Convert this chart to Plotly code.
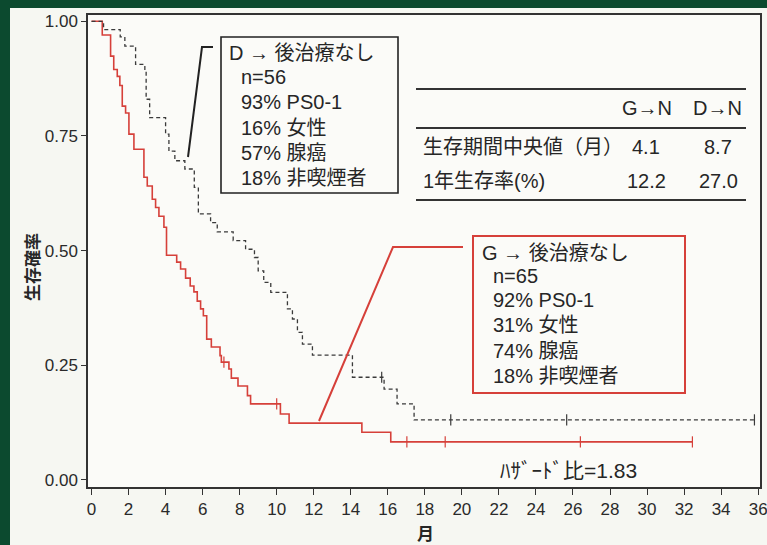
import plotly.graph_objects as go

# ---------------- data ----------------
# G -> no further therapy (red, solid), n=65
g_time = [0, 0.58, 1.03, 1.2, 1.39, 1.53, 1.66, 1.84, 2.02, 2.29, 2.83, 3.01, 3.28, 3.46, 3.64,
          3.91, 4.05, 4.6, 4.81, 5.08, 5.33, 5.53, 5.71, 5.89, 6.04, 6.22, 6.47, 6.94, 7.01,
          7.42, 7.55, 7.91, 8.42, 8.59, 10.2, 10.67, 14.6, 16.16, 32.45]
g_surv = [1.0, 0.97, 0.924, 0.895, 0.88, 0.86, 0.815, 0.80, 0.754, 0.721, 0.66, 0.641, 0.612, 0.594, 0.575,
          0.551, 0.49, 0.475, 0.46, 0.44, 0.423, 0.41, 0.39, 0.373, 0.358, 0.307, 0.29, 0.271, 0.257,
          0.242, 0.222, 0.205, 0.184, 0.166, 0.144, 0.124, 0.104, 0.083, 0.083]
g_cens_time = [7.15, 10.0, 17.03, 19.1, 26.4, 32.45]
g_cens_surv = [0.257, 0.166, 0.083, 0.083, 0.083, 0.083]

# D -> no further therapy (dark dashed), n=56
d_time = [0, 0.65, 1.55, 1.8, 2.38, 2.88, 2.95, 3.14, 4.0, 4.18, 4.5, 5.04, 5.55, 5.77, 6.43, 6.79,
          7.65, 8.32, 8.8, 9.0, 9.3, 9.68, 10.58, 10.85, 11.12, 11.39, 11.93, 14.09, 15.8, 16.5,
          17.42, 35.8]
d_surv = [1.0, 0.982, 0.966, 0.946, 0.906, 0.892, 0.83, 0.79, 0.754, 0.717, 0.696, 0.678, 0.638, 0.58,
          0.561, 0.541, 0.522, 0.503, 0.485, 0.456, 0.431, 0.409, 0.373, 0.351, 0.322, 0.296, 0.272,
          0.224, 0.198, 0.166, 0.131, 0.131]
d_cens_time = [15.67, 19.4, 25.66, 35.8]
d_cens_surv = [0.224, 0.131, 0.131, 0.131]

x_ticks = list(range(0, 37, 2))
y_ticks = [0.0, 0.25, 0.5, 0.75, 1.0]

g_box_lines = ["G → 後治療なし", "n=65", "92% PS0-1", "31% 女性", "74% 腺癌", "18% 非喫煙者"]
d_box_lines = ["D → 後治療なし", "n=56", "93% PS0-1", "16% 女性", "57% 腺癌", "18% 非喫煙者"]
table_header = ["G→N", "D→N"]
table_rows = ["生存期間中央値（月）", "1年生存率(%)"]
table_g = ["4.1", "12.2"]
table_d = ["8.7", "27.0"]
hazard_text = "ﾊｻﾞｰﾄﾞ比=1.83"

# ---------------- layout helpers (pixel -> paper) ----------------
W, H = 767, 545
ML, MR, MT, MB = 88, 7, 15, 58
PW, PH = W - ML - MR, H - MT - MB


def px(x):
    return (x - ML) / PW


def py(y):
    return (H - MB - y) / PH


FONT = "Liberation Sans, Arial, Noto Sans CJK JP"
TXT = "#262626"
RED = "#d6403a"
DARK = "#3a3a3a"

fig = go.Figure()
fig.add_trace(go.Scatter(x=g_time, y=g_surv, mode="lines", line=dict(color=RED, width=1.6, shape="hv"),
                         showlegend=False, hoverinfo="skip"))
fig.add_trace(go.Scatter(x=d_time, y=d_surv, mode="lines",
                         line=dict(color=DARK, width=1.3, shape="hv", dash="4px,3px"),
                         showlegend=False, hoverinfo="skip"))
fig.add_trace(go.Scatter(x=g_cens_time, y=g_cens_surv, mode="markers",
                         marker=dict(symbol="line-ns-open", size=8, color=RED, line=dict(color=RED, width=1.2)),
                         showlegend=False, hoverinfo="skip"))
fig.add_trace(go.Scatter(x=d_cens_time, y=d_cens_surv, mode="markers",
                         marker=dict(symbol="line-ns-open", size=8, color=DARK, line=dict(color=DARK, width=1.2)),
                         showlegend=False, hoverinfo="skip"))

shapes = []
# scanned page green border
shapes.append(dict(type="rect", xref="paper", yref="paper", x0=px(-2), x1=px(10), y0=py(H + 2), y1=py(-2),
                   fillcolor="#0c4a2f", line=dict(width=0), layer="above"))
shapes.append(dict(type="rect", xref="paper", yref="paper", x0=px(-2), x1=px(W + 2), y0=py(8), y1=py(-2),
                   fillcolor="#0c4a2f", line=dict(width=0), layer="above"))
# D box + leader
shapes.append(dict(type="rect", xref="paper", yref="paper", x0=px(221), x1=px(398), y0=py(193), y1=py(37),
                   line=dict(color="#222222", width=1.6), fillcolor="rgba(0,0,0,0)"))
shapes.append(dict(type="path", xref="paper", yref="paper",
                   path=f"M {px(213)},{py(47)} L {px(202)},{py(47)} L {px(188)},{py(157)}",
                   line=dict(color="#222222", width=2)))
# G box + leader
shapes.append(dict(type="rect", xref="paper", yref="paper", x0=px(473), x1=px(685), y0=py(393), y1=py(236),
                   line=dict(color=RED, width=2), fillcolor="rgba(0,0,0,0)"))
shapes.append(dict(type="path", xref="paper", yref="paper",
                   path=f"M {px(463)},{py(247)} L {px(393)},{py(247)} L {px(319)},{py(421)}",
                   line=dict(color=RED, width=2)))
# table rules
for yy in (89, 128, 200):
    shapes.append(dict(type="line", xref="paper", yref="paper", x0=px(416), x1=px(746), y0=py(yy), y1=py(yy),
                       line=dict(color="#333333", width=2)))

ann = []


def text(x, y, s, size=20, anchor="left", color=TXT, **kw):
    ann.append(dict(xref="paper", yref="paper", x=px(x), y=py(y), text=s, showarrow=False,
                    xanchor=anchor, yanchor="middle", font=dict(family=FONT, size=size, color=color), **kw))


d_ys = [53, 77, 102, 128, 153, 178]
for i, (s, yy) in enumerate(zip(d_box_lines, d_ys)):
    text(227 if i == 0 else 239, yy, s)
g_ys = [253, 276, 300, 325, 351, 376]
for i, (s, yy) in enumerate(zip(g_box_lines, g_ys)):
    text(480 if i == 0 else 491, yy, s)

text(647, 108, table_header[0], anchor="center")
text(717, 108, table_header[1], anchor="center")
for s, gv, dv, yy in zip(table_rows, table_g, table_d, (147, 181)):
    text(421, yy, s)
    text(646, yy, gv, anchor="center")
    text(718, yy, dv, anchor="center")

text(568, 470, hazard_text, size=21, anchor="center")
text(33, 267, "<b>生存確率</b>", size=17, anchor="center", textangle=-90)
text(425, 534, "<b>月</b>", size=17, anchor="center")

fig.update_layout(
    width=W, height=H,
    margin=dict(l=ML, r=MR, t=MT, b=MB),
    paper_bgcolor="#f6f7f2", plot_bgcolor="#fbfbf8",
    shapes=shapes, annotations=ann,
    xaxis=dict(range=[-0.19, 36.1], tickvals=x_ticks, ticktext=[str(v) for v in x_ticks],
               ticks="outside", ticklen=6, tickcolor="#333", showgrid=False, zeroline=False,
               showline=True, linecolor="#333", linewidth=1.5, mirror=True, automargin=False,
               ticklabeloverflow="allow",
               tickfont=dict(family=FONT, size=17, color="#2a2a2a")),
    yaxis=dict(range=[-0.0153, 1.0137], tickvals=y_ticks, ticktext=[f"{v:.2f}" for v in y_ticks],
               ticks="outside", ticklen=5, tickcolor="#333", showgrid=False, zeroline=False,
               showline=True, linecolor="#333", linewidth=1.5, mirror=True, automargin=False,
               tickfont=dict(family=FONT, size=17, color="#2a2a2a")),
)

fig.write_html("out.html", config={"displayModeBar": False},
               post_script="document.body.style.margin='0';document.body.style.overflow='hidden';")
